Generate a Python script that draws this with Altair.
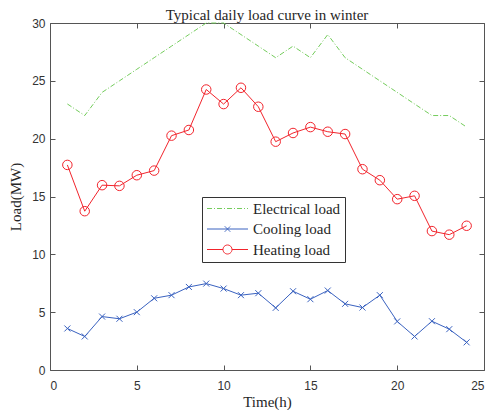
import altair as alt
import pandas as pd

hours = list(range(1, 25))
electrical = [23, 22, 24, 25, 26, 27, 28, 29, 30, 30, 29, 28, 27, 28, 27, 29, 27, 26, 25, 24, 23, 22, 22, 21]
cooling = [3.59, 2.90, 4.62, 4.43, 5.00, 6.20, 6.47, 7.18, 7.47, 7.04, 6.47, 6.64,
           5.37, 6.81, 6.12, 6.87, 5.72, 5.40, 6.47, 4.20, 2.90, 4.22, 3.53, 2.39]
heating = [17.73, 13.73, 15.98, 15.92, 16.84, 17.24, 20.26, 20.75, 24.25, 22.99, 24.40, 22.76,
           19.74, 20.49, 21.00, 20.60, 20.40, 17.36, 16.41, 14.77, 15.06, 12.01, 11.70, 12.47]
series_names = ["Electrical load", "Cooling load", "Heating load"]
colors = ["#74cc5c", "#3a62c0", "#f2242c"]
x_ticks = [0, 5, 10, 15, 20, 25]
y_ticks = [0, 5, 10, 15, 20, 25, 30]

rows = []
for name, vals in zip(series_names, [electrical, cooling, heating]):
    for h, v in zip(hours, vals):
        rows.append({"hour": h, "series": name, "load": v})
df = pd.DataFrame(rows)

W, H = 434, 347
AX = "#555555"

xs = alt.Scale(domain=[0, 25], nice=False, zero=False)
ys = alt.Scale(domain=[0, 30], nice=False, zero=False)


def tick_axis(orient, offset, values):
    return alt.Axis(orient=orient, offset=offset, values=values, labels=False, domain=False,
                    ticks=True, tickSize=5, tickColor=AX, tickWidth=1, grid=False, title=None)


main_x = alt.Axis(orient="bottom", values=x_ticks, tickSize=0, ticks=False, domain=False, grid=False,
                  labelPadding=10, labelFont="Liberation Sans", labelFontSize=12, labelColor="#333333",
                  title="Time(h)", titleFont="Liberation Serif", titleFontSize=15, titleFontWeight="normal",
                  titleColor="#262626", titlePadding=3)
main_y = alt.Axis(orient="left", values=y_ticks, tickSize=0, ticks=False, domain=False, grid=False,
                  labelPadding=5, labelFont="Liberation Sans", labelFontSize=12, labelColor="#333333",
                  title="Load(MW)", titleFont="Liberation Serif", titleFontSize=15, titleFontWeight="normal",
                  titleColor="#262626", titlePadding=8)

base = alt.Chart(df)

# legend symbols: symbolSize 100 -> unit = 5 px
leg_paths = [
    "M-4.1,0H4.1",
    "M-4.1,0H4.1M-0.55,-0.55L0.55,0.55M-0.55,0.55L0.55,-0.55",
    "M-4.1,0H-0.9M0.9,0H4.1M0.9,0A0.9,0.9 0 1,1 -0.9,0A0.9,0.9 0 1,1 0.9,0",
]

legend_layer = base.mark_point(filled=False, opacity=1, strokeWidth=1).encode(
    x=alt.X("hour:Q", scale=xs, axis=None),
    y=alt.Y("load:Q", scale=ys, axis=None),
    color=alt.Color("series:N", scale=alt.Scale(domain=series_names, range=colors), legend=alt.Legend(title=None)),
    strokeDash=alt.StrokeDash("series:N", scale=alt.Scale(domain=series_names, range=[[5, 2, 1, 2], [1, 0], [1, 0]]),
                              legend=alt.Legend(title=None)),
    shape=alt.Shape("series:N", scale=alt.Scale(domain=series_names, range=leg_paths), legend=alt.Legend(title=None)),
).transform_filter("false")

elec_line = base.transform_filter(alt.datum.series == series_names[0]).mark_line(
    color=colors[0], strokeWidth=1, strokeDash=[5, 2, 1, 2]).encode(
    x=alt.X("hour:Q", scale=xs, axis=main_x),
    y=alt.Y("load:Q", scale=ys, axis=main_y),
)

cool_line = base.transform_filter(alt.datum.series == series_names[1]).mark_line(
    color=colors[1], strokeWidth=1).encode(
    x=alt.X("hour:Q", scale=xs, axis=tick_axis("top", -H, x_ticks)),
    y=alt.Y("load:Q", scale=ys, axis=tick_axis("right", -W, y_ticks)),
)

heat_line = base.transform_filter(alt.datum.series == series_names[2]).mark_line(
    color=colors[2], strokeWidth=1).encode(
    x=alt.X("hour:Q", scale=xs, axis=tick_axis("bottom", -H, x_ticks)),
    y=alt.Y("load:Q", scale=ys, axis=tick_axis("left", -W, y_ticks)),
)

cool_pts = base.transform_filter(alt.datum.series == series_names[1]).mark_point(
    shape="M-1,-1L1,1M-1,1L1,-1", size=36, filled=False, color=colors[1], strokeWidth=1, opacity=1).encode(
    x=alt.X("hour:Q", scale=xs, axis=None),
    y=alt.Y("load:Q", scale=ys, axis=None),
)

heat_pts = base.transform_filter(alt.datum.series == series_names[2]).mark_point(
    shape="circle", size=90, filled=False, color=colors[2], strokeWidth=1, opacity=1).encode(
    x=alt.X("hour:Q", scale=xs, axis=None),
    y=alt.Y("load:Q", scale=ys, axis=None),
)

chart = alt.layer(legend_layer, elec_line, cool_line, heat_line, cool_pts, heat_pts).resolve_axis(
    x="independent", y="independent"
).properties(
    width=W, height=H,
    title=alt.TitleParams("Typical daily load curve in winter", font="Liberation Serif", fontSize=15,
                          fontWeight="normal", color="#262626", anchor="middle", offset=4, frame="group",
                          dy=10),
    autosize=alt.AutoSizeParams(type="none"),
    padding={"left": 42, "top": 15, "right": 6, "bottom": 40},
).configure_view(stroke=AX, strokeWidth=1).configure_legend(
    orient="none", legendX=152, legendY=174, fillColor="white", strokeColor="#333333",
    padding=4, labelFont="Liberation Serif", labelFontSize=15, labelColor="#262626",
    symbolSize=100, symbolStrokeWidth=1, rowPadding=4.5, symbolOffset=14, labelOffset=18,
    symbolFillColor="transparent", cornerRadius=0,
)

chart.save("out.html", embed_options={"renderer": "svg", "actions": False})
